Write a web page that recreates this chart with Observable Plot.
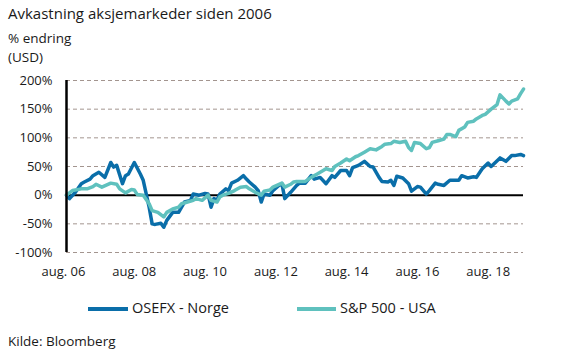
<!DOCTYPE html>
<html>
<head>
<meta charset="utf-8">
<script src="https://cdn.jsdelivr.net/npm/d3@7"></script>
<script src="https://cdn.jsdelivr.net/npm/@observablehq/plot@0.6"></script>
<style>
  html, body { margin: 0; padding: 0; background: #fff; }
  #wrap { position: relative; width: 561px; height: 355px; font-family: "Open Sans", sans-serif; color: #1a1a1a; overflow: hidden; }
  .t { position: absolute; white-space: nowrap; }
  #title { left: 8px; top: 4px; font-size: 15px; line-height: 18px; }
  .sub { left: 8px; font-size: 13.5px; line-height: 16px; }
  #plot { position: absolute; left: 0; top: 70px; }
  .sw { position: absolute; height: 4px; }
  .lg { font-size: 14.5px; line-height: 18px; }
  #cap { left: 8px; top: 333px; font-size: 13.5px; line-height: 17px; }
</style>
</head>
<body>
<div id="wrap">
  <div class="t" id="title">Avkastning aksjemarkeder siden 2006</div>
  <div class="t sub" style="top:30px;">% endring</div>
  <div class="t sub" style="top:49px;">(USD)</div>
  <div id="plot"></div>
  <div class="sw" id="sw1" style="left:88px; top:307px; width:40px; background:#0a6ea9"></div>
  <div class="t lg" style="left:132px; top:299px;">OSEFX - Norge</div>
  <div class="sw" id="sw2" style="left:297px; top:307px; width:39px; background:#5fc1be"></div>
  <div class="t lg" style="left:340px; top:299px;">S&amp;P 500 - USA</div>
  <div class="t" id="cap">Kilde: Bloomberg</div>
</div>
<script>
// ---- data ----
const seriesNames = ["OSEFX - Norge", "S&P 500 - USA"];

const osefxDates = ["2006-08","2006-09","2006-11","2007-01","2007-02","2007-04","2007-05","2007-07","2007-09","2007-11","2007-12","2008-01","2008-03","2008-04","2008-05","2008-07","2008-09","2008-10","2008-12","2009-01","2009-02","2009-04","2009-05","2009-06","2009-08","2009-10","2009-11","2009-12","2010-02","2010-03","2010-05","2010-07","2010-08","2010-09","2010-10","2010-11","2010-12","2011-02","2011-03","2011-04","2011-06","2011-08","2011-09","2011-10","2011-12","2012-01","2012-02","2012-03","2012-05","2012-06","2012-08","2012-09","2012-10","2012-12","2013-02","2013-03","2013-05","2013-07","2013-08","2013-10","2013-12","2014-02","2014-03","2014-05","2014-07","2014-08","2014-09","2014-11","2015-01","2015-03","2015-04","2015-06","2015-07","2015-09","2015-10","2015-11","2015-12","2016-02","2016-04","2016-05","2016-07","2016-08","2016-10","2016-11","2017-01","2017-02","2017-04","2017-06","2017-09","2017-10","2017-12","2018-02","2018-03","2018-05","2018-07","2018-08","2018-11","2019-01","2019-03","2019-04","2019-06","2019-07"];
const osefxValues = [0,-6,5,20,23,28,34,40,31,57,49,52,20,34,37,57,37,26,-21,-50,-51,-49,-56,-44,-30,-30,-21,-12,-9,2,0,3,2,-21,-6,-9,2,11,8,21,26,34,28,23,14,8,-12,2,0,8,17,20,-6,5,17,21,21,34,28,31,20,34,31,43,43,34,48,52,59,50,49,31,24,23,26,17,33,30,20,7,15,14,2,8,21,19,17,26,26,34,30,32,31,46,56,50,65,59,69,69,71,69];

const spDates = ["2006-08","2006-10","2007-01","2007-03","2007-05","2007-06","2007-08","2007-11","2008-01","2008-02","2008-04","2008-06","2008-07","2008-08","2008-10","2008-12","2009-01","2009-03","2009-05","2009-06","2009-08","2009-10","2009-11","2010-01","2010-03","2010-04","2010-06","2010-08","2010-09","2010-11","2010-12","2011-01","2011-03","2011-05","2011-07","2011-09","2011-10","2011-12","2012-02","2012-03","2012-05","2012-06","2012-09","2012-10","2012-12","2013-01","2013-02","2013-05","2013-07","2013-09","2013-11","2013-12","2014-02","2014-03","2014-05","2014-07","2014-08","2014-10","2014-11","2015-01","2015-03","2015-05","2015-07","2015-08","2015-10","2015-11","2016-01","2016-03","2016-04","2016-05","2016-06","2016-08","2016-10","2016-11","2016-12","2017-02","2017-04","2017-05","2017-06","2017-08","2017-09","2017-11","2017-12","2018-02","2018-03","2018-05","2018-06","2018-08","2018-10","2018-11","2019-01","2019-02","2019-03","2019-05","2019-06","2019-07"];
const spValues = [0,8,11,11,15,19,14,21,19,11,4,10,9,1,0,-15,-27,-30,-38,-30,-24,-21,-15,-12,-9,-6,-9,0,-9,-12,-3,0,3,8,14,15,11,5,0,7,9,14,21,14,19,23,24,24,31,37,43,46,43,50,56,63,60,67,69,75,81,79,85,89,90,94,92,94,83,78,92,90,81,83,92,95,98,106,106,102,113,119,127,129,133,139,141,150,158,175,164,159,164,168,177,185];

const xTickDates = ["2006-08","2008-08","2010-08","2012-08","2014-08","2016-08","2018-08"];
const yTickValues = [-100,-50,0,50,100,150,200];
const xDomain = ["2006-08","2019-07"];

// ---- build ----
const parse = d3.utcParse("%Y-%m");
const colors = ["#0a6ea9", "#5fc1be"];
const osefx = osefxDates.map((d, i) => ({date: parse(d), value: osefxValues[i], series: seriesNames[0]}));
const sp = spDates.map((d, i) => ({date: parse(d), value: spValues[i], series: seriesNames[1]}));
const start = parse(xDomain[0]);

const chart = Plot.plot({
  width: 561,
  height: 222,
  marginLeft: 66,
  marginRight: 38,
  marginTop: 10,
  marginBottom: 40,
  style: {fontFamily: "'Open Sans', sans-serif", fontSize: "13px", color: "#1a1a1a", background: "transparent", overflow: "visible"},
  x: {type: "utc", domain: xDomain.map(parse), label: null},
  y: {domain: [-100, 200], label: null},
  marks: [
    Plot.ruleY(yTickValues.filter(d => d !== 0), {stroke: "#a3958f", strokeWidth: 1, strokeDasharray: "4,3"}),
    Plot.ruleY([0], {stroke: "#000", strokeWidth: 2}),
    Plot.line(osefx, {x: "date", y: "value", stroke: colors[0], strokeWidth: 3.5, strokeLinejoin: "round"}),
    Plot.line(sp, {x: "date", y: "value", stroke: colors[1], strokeWidth: 3.5, strokeLinejoin: "round"}),
    Plot.ruleX([start], {stroke: "#000", strokeWidth: 2.5}),
    Plot.axisX({ticks: xTickDates.map(parse), tickFormat: d => "aug. " + String(d.getUTCFullYear()).slice(2), tickSize: 0, tickPadding: 14, dx: -3, fill: "#1a1a1a", label: null}),
    Plot.axisY({ticks: yTickValues, tickFormat: d => d + "%", tickSize: 0, tickPadding: 14, fill: "#1a1a1a", label: null})
  ]
});
document.getElementById("plot").appendChild(chart);
</script>
</body>
</html>
